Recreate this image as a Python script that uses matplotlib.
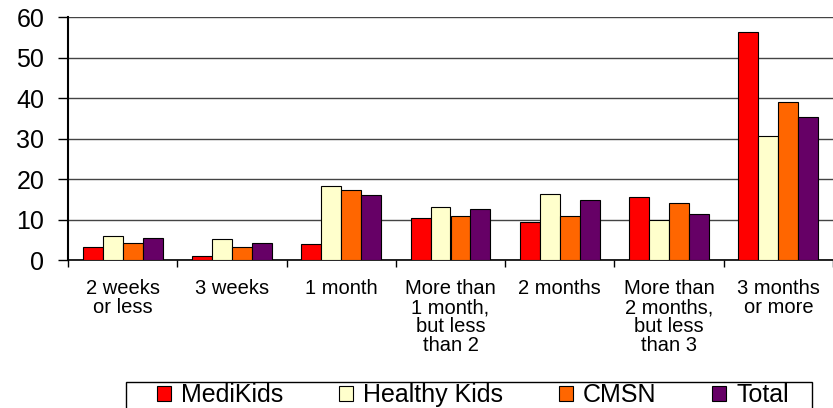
import numpy as np
import matplotlib
matplotlib.use("Agg")
import matplotlib.pyplot as plt
from matplotlib.patches import Rectangle

plt.rcParams['font.family'] = ['Liberation Sans', 'DejaVu Sans']

# Data
categories = ["2 weeks\nor less", "3 weeks", "1 month",
              "More than\n1 month,\nbut less\nthan 2", "2 months",
              "More than\n2 months,\nbut less\nthan 3", "3 months\nor more"]
series_names = ["MediKids", "Healthy Kids", "CMSN", "Total"]
medikids = [3.2, 1.0, 4.0, 10.3, 9.4, 15.6, 56.2]
healthy_kids = [6.0, 5.2, 18.3, 13.2, 16.2, 10.0, 30.5]
cmsn = [4.2, 3.2, 17.2, 10.8, 10.8, 14.1, 39.0]
total = [5.4, 4.2, 16.0, 12.6, 14.7, 11.4, 35.3]
colors = ["#FF0000", "#FFFFCC", "#FF6600", "#660066"]

fig = plt.figure(figsize=(8.33, 4.08), dpi=100)
ax = fig.add_axes([68 / 833, 148 / 408, 765 / 833, 243 / 408])

x = np.arange(len(categories))
w = 0.183
for i, (vals, name) in enumerate(zip([medikids, healthy_kids, cmsn, total], series_names)):
    ax.bar(x + (i - 1.5) * w, vals, w, color=colors[i], edgecolor="black",
           linewidth=0.8, label=name, zorder=3)

ax.set_xlim(-0.5, len(categories) - 0.5)
ax.set_ylim(0, 60)
ax.set_yticks(range(0, 61, 10))
ax.yaxis.grid(True, color="#444444", linewidth=1, zorder=0)
ax.tick_params(axis="y", labelsize=18, length=7, width=1, pad=10)

# category ticks at group boundaries, labels centred in groups
ax.set_xticks(np.arange(-0.5, len(categories), 1.0))
ax.set_xticklabels([])
ax.set_xticks(x, minor=True)
ax.set_xticklabels(categories, minor=True, fontsize=14.5, va="top", ha="center",
                   linespacing=1.0)
ax.tick_params(axis="x", which="major", length=5, width=1)
ax.tick_params(axis="x", which="minor", length=0, pad=14)

for s in ["top", "right"]:
    ax.spines[s].set_visible(False)
ax.spines["left"].set_linewidth(1.5)
ax.spines["bottom"].set_linewidth(1.2)

# legend entries spread over the box, box drawn separately (bottom runs off the page)
leg = fig.legend(loc="upper left", bbox_to_anchor=(156 / 833, -0.2, 634 / 833, 26 / 408 + 0.2),
                 mode="expand", ncol=4,
                 fontsize=18, frameon=False,
                 handlelength=0.55, handleheight=0.55, handletextpad=0.4,
                 columnspacing=1.4, borderpad=0.05, borderaxespad=0)
for h in leg.legend_handles:
    h.set_linewidth(0.8)
fig.patches.append(Rectangle((126 / 833, -0.05), 686 / 833, 26 / 408 + 0.05,
                             transform=fig.transFigure, fill=False,
                             edgecolor="black", linewidth=1))

fig.savefig("out.png", dpi=100)
